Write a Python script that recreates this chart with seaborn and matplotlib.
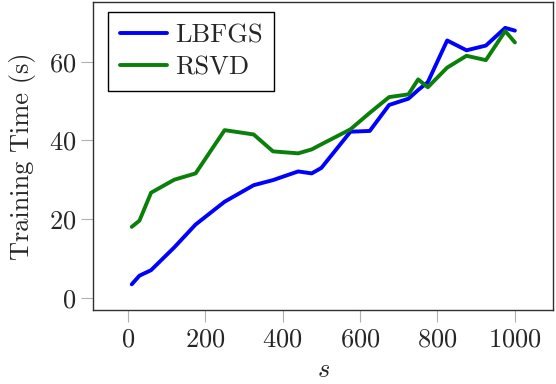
import pandas as pd
import matplotlib.pyplot as plt
import seaborn as sns

# values
s_values = [10, 30, 60, 120, 175, 250, 325, 375, 440, 475, 500,
            575, 625, 675, 725, 750, 775, 825, 875, 925, 975, 1000]
lbfgs_time = [3.4, 5.6, 7.0, 12.8, 18.6, 24.4, 28.6, 29.9, 32.1, 31.6, 33.0,
              42.2, 42.4, 49.0, 50.6, 52.8, 54.8, 65.4, 62.9, 64.1, 68.6, 67.9]
rsvd_time = [18.0, 19.6, 26.7, 30.0, 31.6, 42.6, 41.5, 37.2, 36.7, 37.7, 39.0,
             42.8, 47.0, 51.0, 51.7, 55.5, 53.5, 58.5, 61.5, 60.4, 67.8, 64.9]
x_ticks = [0, 200, 400, 600, 800, 1000]
y_ticks = [0, 20, 40, 60]


def build_frame():
    """Long-form table for seaborn."""
    a = pd.DataFrame({'s': s_values, 'time': lbfgs_time, 'method': 'LBFGS'})
    b = pd.DataFrame({'s': s_values, 'time': rsvd_time, 'method': 'RSVD'})
    return pd.concat([a, b], ignore_index=True)


def main():
    sns.set_style('ticks')
    plt.rcParams['font.family'] = ['cmr10', 'DejaVu Serif']
    plt.rcParams['mathtext.fontset'] = 'cm'
    plt.rcParams['axes.formatter.use_mathtext'] = True
    fs = 19

    df = build_frame()
    fig, ax = plt.subplots(figsize=(5.56, 3.84), dpi=100)
    fig.subplots_adjust(left=0.168, right=0.995, top=0.995, bottom=0.192)

    sns.lineplot(data=df, x='s', y='time', hue='method',
                 palette={'LBFGS': '#0000ff', 'RSVD': '#0a800a'},
                 linewidth=2.8, ax=ax)

    ax.set_xlim(-89, 1099)
    ax.set_ylim(-3.2, 75.2)
    ax.set_xticks(x_ticks)
    ax.set_yticks(y_ticks)
    ax.tick_params(direction='out', length=8.5, width=0.8, color='#b0b0b0',
                   labelsize=fs, pad=4)
    for sp in ax.spines.values():
        sp.set_color('#303030')
        sp.set_linewidth(1.0)

    ax.set_xlabel('$s$', fontsize=fs, labelpad=5)
    ax.set_ylabel('Training Time (s)', fontsize=fs, labelpad=9)

    leg = ax.legend(loc='upper left', fontsize=fs, frameon=True, fancybox=False,
                    edgecolor='black', handlelength=1.8, borderpad=0.45,
                    labelspacing=0.3, handletextpad=0.3, borderaxespad=0,
                    bbox_to_anchor=(0.031, 0.968))
    leg.get_frame().set_linewidth(1.0)
    leg.get_frame().set_alpha(1.0)

    plt.savefig('out.png', dpi=100)
    plt.close(fig)


if __name__ == "__main__":
    main()
